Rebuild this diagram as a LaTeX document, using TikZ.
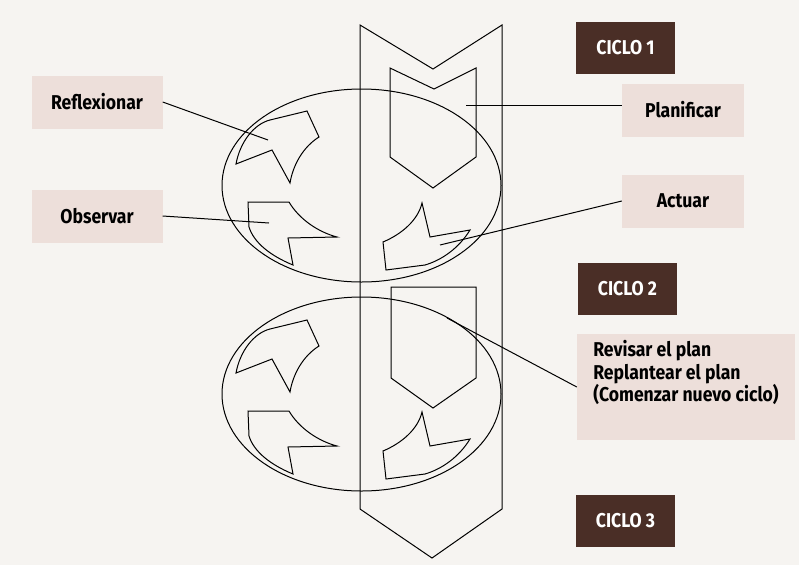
\documentclass[tikz,border=0pt]{standalone}
\usepackage{fontspec}
\setmainfont{Fira Sans}[FakeStretch=0.88]
\definecolor{fondo}{HTML}{F6F4F1}
\definecolor{rosa}{HTML}{EDDFDA}
\definecolor{marron}{HTML}{4A2E26}
\begin{document}
\begin{tikzpicture}[x=1pt,y=-1pt,
    etiqueta/.style={fill=rosa, minimum width=122pt, minimum height=53pt, font=\fontsize{20}{23}\selectfont\bfseries},
    ciclo/.style={fill=marron, text=white, minimum width=99pt, minimum height=52pt, font=\fontsize{20}{23}\selectfont\bfseries},
    linea/.style={line width=1pt}]
            % 背景
            \useasboundingbox (0,0) rectangle (799,565);
            \fill[fondo] (0,0) rectangle (799,565);

            % 两个椭圆
            \draw[linea] (361.5,185.5) ellipse [x radius=139.5, y radius=96.5];
            \draw[linea] (361.5,394) ellipse [x radius=139.5, y radius=97];

            % 大箭头带
            \draw[linea] (360,25) -- (433,69) -- (502,25) -- (502,509) -- (432,558) -- (360,509) -- cycle;

            % 箭头带内的五边形
            \draw[linea] (390,68) -- (434,89) -- (476,68) -- (476,157) -- (433,188) -- (390,157) -- cycle;
            \draw[linea] (391,287) -- (476,287) -- (476,378) -- (433,408) -- (391,378) -- cycle;

            % 椭圆内的三个箭头形状 (上下各一次)
            \foreach \dy in {0,209} {
                \begin{scope}[shift={(0,\dy)}]
                    \draw[linea] (270,120) .. controls (254,124) and (240,142) .. (236,164) -- (272,150) -- (290,183)
                        .. controls (293,165) and (303,147) .. (319,137) -- (307,111) -- cycle;
                    \draw[linea] (248,202) -- (289,202) .. controls (299,219) and (318,232) .. (337,237) -- (288,238)
                        -- (293,265) .. controls (271,256) and (254,243) .. (249,227) -- cycle;
                    \draw[linea] (386,270) -- (383,242) .. controls (402,234) and (418,220) .. (422,203) -- (430,237)
                        -- (470,230) .. controls (459,248) and (442,260) .. (425,265) -- cycle;
                \end{scope}
            }

            % 标签
            \node[etiqueta, minimum width=131pt] (reflex) at (97,102) {Reflexionar};
            \node[etiqueta, minimum width=131pt] (observ) at (97,216) {Observar};
            \node[etiqueta] (planif) at (683,110) {Planificar};
            \node[etiqueta] (actuar) at (683,201) {Actuar};
            \node[etiqueta, minimum width=218pt, minimum height=106pt, align=left, text depth=32pt,
                font=\fontsize{20}{22.5}\selectfont\bfseries]
                (revisar) at (686,387) {Revisar el plan\\Replantear el plan\\(Comenzar nuevo ciclo)};

            % 循环标记
            \node[ciclo] (cicloA) at (625.5,48) {CICLO 1};
            \node[ciclo] (cicloB) at (627.5,289) {CICLO 2};
            \node[ciclo] (cicloC) at (625.5,521) {CICLO 3};

            % 连线
            \coordinate (reflexFin) at (268,140);
            \coordinate (observFin) at (269,223);
            \coordinate (planifFin) at (466,105);
            \coordinate (actuarFin) at (440,245);
            \coordinate (revisarIni) at (447,318);
            \draw[linea] (reflex.east) -- (reflexFin);
            \draw[linea] (observ.east) -- (observFin);
            \draw[linea] ([yshift=5pt]planif.west) -- (planifFin);
            \draw[linea] (actuar.west) -- (actuarFin);
            \draw[linea] (revisarIni) -- (revisar.west);
        \end{tikzpicture}
\end{document}
